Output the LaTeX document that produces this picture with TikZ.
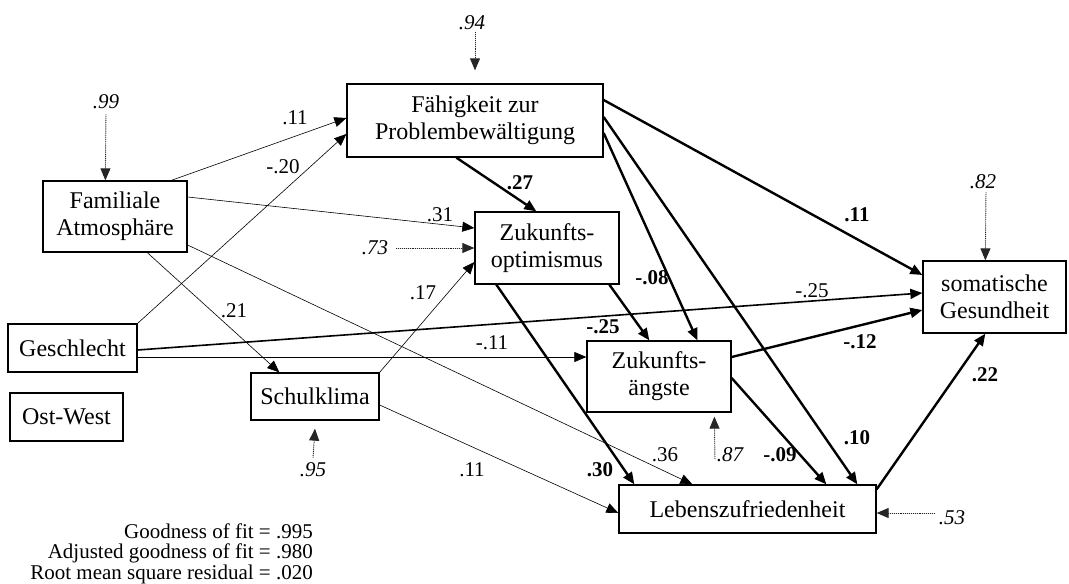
\documentclass[tikz,border=0pt]{standalone}
\usepackage{fontspec}
\setmainfont{Liberation Serif}
\usetikzlibrary{arrows.meta}
\begin{document}
\begin{tikzpicture}[x=1pt,y=-1pt,
  box/.style={draw,line width=1.3pt,inner sep=0pt,align=center,font=\fontsize{24}{27}\selectfont},
  tip/.style={-{Triangle[length=12pt,width=10pt]}},
  thinpath/.style={tip,line width=0.6pt},
  medpath/.style={tip,line width=1.6pt},
  boldpath/.style={tip,line width=2.4pt},
  respath/.style={-{Triangle[length=12pt,width=10pt]},line width=0.9pt,densely dotted,draw=black!85,fill=black},
  lab/.style={font=\fontsize{21}{24}\selectfont,inner sep=0pt},
  blab/.style={font=\fontsize{21}{24}\selectfont\bfseries,inner sep=0pt},
  rlab/.style={font=\fontsize{21}{24}\selectfont\itshape,inner sep=0pt},
  fitstats/.style={font=\fontsize{21}{20.5}\selectfont,inner sep=0pt,anchor=east,align=right}
]
\useasboundingbox (0,0) rectangle (1069,584);

% boxes
\node[box,minimum width=144pt,minimum height=71pt] (fam) at (115,216.5) {Familiale\\Atmosphäre};
\node[box,minimum width=256pt,minimum height=73pt] (faeh) at (475,120.5) {Fähigkeit zur\\Problembewältigung};
\node[box,minimum width=144pt,minimum height=72pt] (opt) at (547,248) {Zukunfts-\\optimismus};
\node[box,minimum width=143pt,minimum height=72pt] (som) at (994.5,297) {somatische\\Gesundheit};
\node[box,minimum width=129pt,minimum height=48pt] (ges) at (72.5,348) {Geschlecht};
\node[box,minimum width=113pt,minimum height=48pt] (ost) at (66.5,417) {Ost-West};
\node[box,minimum width=128pt,minimum height=47pt] (schul) at (315,396.5) {Schulklima};
\node[box,minimum width=144pt,minimum height=71pt] (angst) at (659,376.5) {Zukunfts-\\ängste};
\node[box,minimum width=257pt,minimum height=48pt] (leben) at (747.5,509) {Lebenszufriedenheit};

% thin paths
\draw[thinpath] ([xshift=129pt]fam.north west) -- ([yshift=2.5pt]faeh.west);
\draw[thinpath] (ges.north east) -- ([yshift=-13.5pt]faeh.west);
\draw[thinpath] ([yshift=19.5pt]fam.east) -- ([yshift=20pt]opt.west);
\draw[thinpath] ([xshift=105pt]fam.south west) -- ([xshift=29pt]schul.north west);
\draw[thinpath] ([yshift=-28.5pt]fam.east) -- ([xshift=74pt]leben.north west);
\draw[thinpath] (schul.north east) -- ([yshift=-14pt]opt.west);
\draw[thinpath] ([yshift=-8.5pt]schul.east) -- ([yshift=-4pt]leben.west);
\draw[thinpath] ([yshift=-9pt]ges.east) -- ([yshift=19.5pt]angst.west);
\draw[medpath] ([yshift=-2pt]ges.east) -- ([yshift=4pt]som.west);

% bold paths
\draw[boldpath] ([xshift=110pt]faeh.south west) -- ([xshift=62pt]opt.north west);
\draw[boldpath] ([yshift=20.5pt]faeh.east) -- ([yshift=22pt]som.west);
\draw[boldpath] ([yshift=-12.5pt]faeh.east) -- ([xshift=111pt]angst.north west);
\draw[boldpath] ([yshift=3.5pt]faeh.east) -- ([xshift=239pt]leben.north west);
\draw[boldpath] ([xshift=135pt]opt.south west) -- ([xshift=63pt]angst.north west);
\draw[boldpath] ([xshift=22pt]opt.south west) -- ([xshift=16pt]leben.north west);
\draw[boldpath] ([yshift=19.5pt]angst.east) -- ([yshift=-13pt]som.west);
\draw[boldpath] ([yshift=-1.5pt]angst.east) -- ([xshift=208pt]leben.north west);
\draw[boldpath] ([yshift=-5pt]leben.north east) -- ([xshift=63pt]som.south west);

% residuals
\node[rlab] (r99) at (106,102) {.99};
\draw[respath] ([yshift=-5pt]r99.south) -- ([xshift=63pt]fam.north west);
\node[rlab] (r94) at (472,23) {.94};
\draw[respath] ([xshift=3pt,yshift=-2pt]r94.south) -- ([yshift=13pt]faeh.north);
\node[rlab] (r73) at (375,248) {.73};
\draw[respath] ([xshift=8pt]r73.east) -- (opt.west);
\node[rlab] (r82) at (983,182) {.82};
\draw[respath] ([xshift=3pt,yshift=-3pt]r82.south) -- ([xshift=63pt]som.north west);
\node[rlab] (r87) at (730,455) {.87};
\coordinate (c87) at (715,459);
\draw[respath] (c87) -- ([xshift=128pt,yshift=-4pt]angst.south west);
\node[rlab] (r53) at (952,518) {.53};
\draw[respath] ([xshift=-4pt,yshift=5pt]r53.west) -- ([yshift=-4pt]leben.east);
\node[rlab] (r95) at (313,470) {.95};
\draw[respath] ([yshift=5pt]r95.north) -- ([yshift=-8pt]schul.south);

% coefficient labels
\node[lab] at (295,118) {.11};
\node[lab] at (283,167) {-.20};
\node[lab] at (440,215) {.31};
\node[lab] at (234,311) {.21};
\node[lab] at (665,455) {.36};
\node[lab] at (423,293) {.17};
\node[lab] at (472,470) {.11};
\node[lab] at (812,291) {-.25};
\node[lab] at (492,343) {-.11};
\node[blab] at (520,183) {.27};
\node[blab] at (857,215) {.11};
\node[blab] at (652,278) {-.08};
\node[blab] at (857,438) {.10};
\node[blab] at (603,327) {-.25};
\node[blab] at (600,470) {.30};
\node[blab] at (860,342) {-.12};
\node[blab] at (780,455) {-.09};
\node[blab] at (985,375) {.22};

% fit statistics
\node[fitstats] (fitinfo) at (313,553.5) {Goodness of fit = .995\\Adjusted goodness of fit = .980\\Root mean square residual = .020};
\end{tikzpicture}
\end{document}
